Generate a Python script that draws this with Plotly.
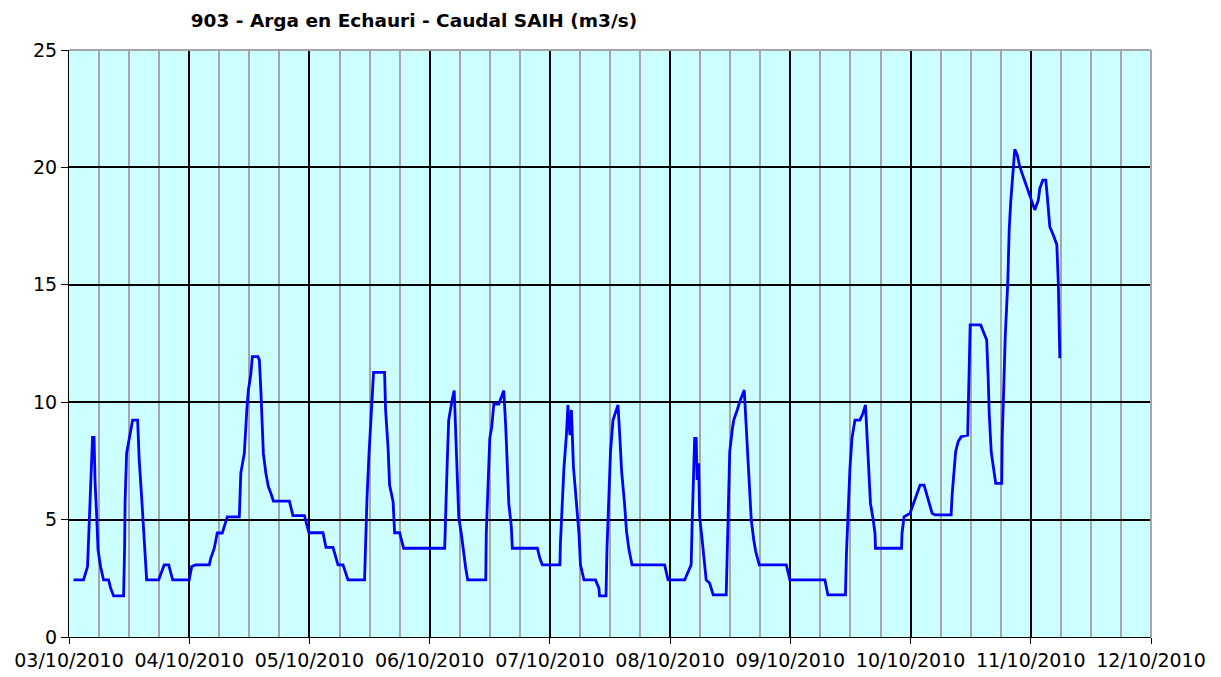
import pandas as pd
import plotly.graph_objects as go

# Hours elapsed since 03/10/2010 00:00 for each reading
HOURS = [
    0.9, 2.9, 3.7, 4.0, 4.3, 4.7, 5.0, 5.2, 5.5, 5.8, 6.3, 6.9, 7.9, 8.3, 8.9, 10.9,
    11.1, 11.2, 11.5, 12.0, 12.3, 12.7, 13.7, 14.0, 14.5, 14.9, 15.2, 15.5, 17.9,
    18.3, 19.0, 19.9, 20.3, 20.7, 24.0, 24.5, 25.3, 28.0, 28.3, 29.0, 29.6, 30.6,
    31.6, 34.0, 34.3, 35.0, 35.5, 35.8, 36.3, 36.6, 37.7,
    38.0, 38.3, 38.5, 38.8, 39.3, 39.8, 40.3, 40.8, 44.0, 44.7, 47.0, 47.9, 50.7,
    51.3, 52.7, 53.7, 54.7, 55.7, 59.0, 59.2, 59.5, 59.9, 60.2, 60.5, 60.8, 63.0,
    63.2, 63.7, 64.0, 64.7, 65.0, 66.0, 66.8, 75.0, 75.2, 75.5, 75.8, 76.1, 76.5,
    76.9, 77.2, 77.5, 77.8, 78.3, 78.7, 79.2, 79.6, 83.2, 83.3, 83.6, 84.0, 84.4,
    84.8, 85.8, 86.8, 87.2, 87.5, 87.8, 88.3, 88.5, 93.5, 94.0, 94.5, 98.0, 98.1,
    98.5, 98.8, 99.3, 99.6, 100.0, 100.3, 100.7, 101.3, 101.8, 102.1, 102.8, 105.1,
    105.8, 105.9, 107.2, 107.4, 107.8, 108.1, 108.6, 109.1, 109.6, 110.0, 110.3,
    110.9, 111.3, 111.8, 112.4, 118.9, 119.6, 122.9, 123.6, 124.2, 124.4, 124.7,
    124.9, 125.2, 125.4, 125.7, 125.9, 126.4, 126.9, 127.2, 127.9, 128.6, 131.2,
    131.4, 131.6, 131.9, 132.4, 132.7, 133.4, 133.9, 134.8, 135.2, 135.7, 136.2,
    136.7, 137.1, 137.8, 143.2, 143.9, 150.9, 151.5, 155.0, 155.2, 155.5, 155.9,
    156.3, 156.9, 157.9, 158.5, 159.0, 159.3, 159.7, 160.0, 160.5, 160.9, 161.0,
    166.2, 166.3, 166.7, 167.9, 168.9, 169.9, 170.7, 171.5, 172.3, 172.9, 176.1,
    176.3, 176.7, 177.0, 177.5, 178.1, 179.4, 179.6, 179.7, 179.9, 182.0, 182.5,
    183.2, 183.5, 183.7, 184.1, 184.5, 185.0, 186.2, 186.3, 186.6, 186.9, 187.4,
    187.7, 188.0, 188.4, 188.8, 189.3, 189.8, 190.5, 191.3, 192.2, 192.8, 193.5,
    193.8, 194.4, 195.0, 195.3, 195.8, 196.5, 197.2, 197.5, 197.6, 197.8,
]

# Flow in m3/s at each reading
FLOW = [
    2.43, 2.43, 3.0, 4.85, 6.6, 8.5, 8.5, 6.6, 5.3, 3.7, 3.0, 2.43, 2.43, 2.09, 1.75, 1.75,
    3.8, 5.76, 7.83, 8.4, 8.8, 9.24, 9.24, 7.6, 5.97, 4.43, 3.7, 2.43, 2.43,
    2.7, 3.07, 3.07, 2.7, 2.43, 2.43, 3.0, 3.07, 3.07, 3.35, 3.78, 4.43, 4.43,
    5.12, 5.12, 6.98, 7.83, 9.67, 10.5, 11.2, 11.94, 11.94,
    11.8, 10.52, 9.24, 7.82, 6.97, 6.40, 6.12, 5.79, 5.79, 5.17, 5.17, 4.44, 4.44,
    3.82, 3.82, 3.07, 3.07, 2.43, 2.43, 4.20, 5.98, 7.83, 8.96, 10.1, 11.27, 11.27,
    9.67, 8.04, 6.47, 5.76, 4.44, 4.44, 3.78, 3.78, 5.55, 7.40, 9.24, 9.67, 10.1,
    10.5, 8.68, 6.83, 5.12, 4.42, 3.63, 2.93, 2.43, 2.43, 4.42, 6.40, 8.46, 8.96,
    9.92, 9.92, 10.5, 8.89, 7.33, 5.68, 4.70, 3.78, 3.78, 3.35, 3.07, 3.07, 3.99,
    5.69, 7.18, 8.60, 9.88, 8.60, 9.67, 7.25, 5.83, 4.42, 3.07, 2.43, 2.43,
    2.07, 1.75, 1.75, 3.78, 5.76, 7.89, 9.24, 9.60, 9.88, 8.39, 7.11,
    5.69, 4.49, 3.70, 3.07, 3.07, 2.43, 2.43, 2.78, 3.07, 4.84, 6.69,
    8.46, 8.46, 6.69, 7.40, 5.12, 4.13, 3.21, 2.43, 2.29, 1.79, 1.79,
    3.70, 5.76, 7.89, 8.82, 9.24, 9.67, 10.02, 10.52, 8.89, 7.25, 4.98,
    4.13, 3.63, 3.07, 3.07, 2.43, 2.43, 1.79, 1.79, 3.56, 5.34, 7.18,
    8.46, 9.24, 9.24, 9.53, 9.88, 8.46, 7.11, 5.69, 5.05, 4.42, 3.78,
    3.78, 4.42, 5.12, 5.27, 5.83, 6.47, 6.47, 5.83, 5.27, 5.20, 5.20,
    6.05, 6.97, 7.89, 8.32, 8.53, 8.60, 10.1, 11.73, 13.29, 13.29, 13.0,
    12.65, 11.02, 9.53, 7.89, 7.33, 6.54, 6.54, 8.53, 10.6, 12.79, 15.06,
    17.4, 18.54, 19.75, 20.77, 20.53, 20.03, 19.6, 19.1, 18.6, 18.19, 18.6,
    19.1, 19.46, 19.46, 18.75, 17.47, 17.12, 16.7, 15.06, 13.5, 11.87,
]

START = "2010-10-03"
END = "2010-10-12"
Y_TICKS = [0, 5, 10, 15, 20, 25]

times = pd.Timestamp(START) + pd.to_timedelta(HOURS, unit="h")

FONT = "DejaVu Sans"
GRID_GREY = "#a6a6a6"

fig = go.Figure()
fig.add_trace(go.Scatter(
    x=times, y=FLOW, mode="lines",
    line=dict(color="#0000ff", width=2.8),
    showlegend=False, hoverinfo="skip",
))

fig.update_layout(
    width=1221, height=677,
    margin=dict(l=69, r=70, t=50, b=40),
    paper_bgcolor="white",
    plot_bgcolor="#ccffff",
    font=dict(family=FONT, size=19, color="black"),
    title=dict(
        text="<b>903 - Arga en Echauri - Caudal SAIH (m3/s)</b>",
        font=dict(family=FONT, size=18.5, color="black"),
        xref="container", x=0.339, xanchor="center",
        yref="container", y=0.97, yanchor="middle",
    ),
)

fig.update_xaxes(
    type="date",
    range=[START, END],
    tick0=START, dtick=86400000,
    tickformat="%d/%m/%Y",
    ticks="outside", ticklen=6, tickcolor="black", tickwidth=1,
    showline=True, linecolor="black", linewidth=1,
    showgrid=True, gridcolor="black", gridwidth=1.5,
    minor=dict(dtick=21600000, tick0=START, showgrid=True,
               gridcolor=GRID_GREY, gridwidth=2, ticks=""),
    zeroline=False, automargin=False,
    tickfont=dict(family=FONT, size=19),
)

fig.update_yaxes(
    range=[0, 25],
    tickvals=Y_TICKS,
    ticks="outside", ticklen=7, tickcolor="black", tickwidth=1,
    showline=True, linecolor="black", linewidth=1,
    showgrid=True, gridcolor="black", gridwidth=1.5,
    zeroline=False, automargin=False,
    tickfont=dict(family=FONT, size=19),
)

# grey frame on the top and right edges of the plot area
fig.add_shape(type="line", xref="paper", yref="paper", x0=0, x1=1, y0=1, y1=1,
              line=dict(color=GRID_GREY, width=2), layer="above")
fig.add_shape(type="line", xref="paper", yref="paper", x0=1, x1=1, y0=0, y1=1,
              line=dict(color=GRID_GREY, width=2), layer="above")

fig.write_html("out.html")
